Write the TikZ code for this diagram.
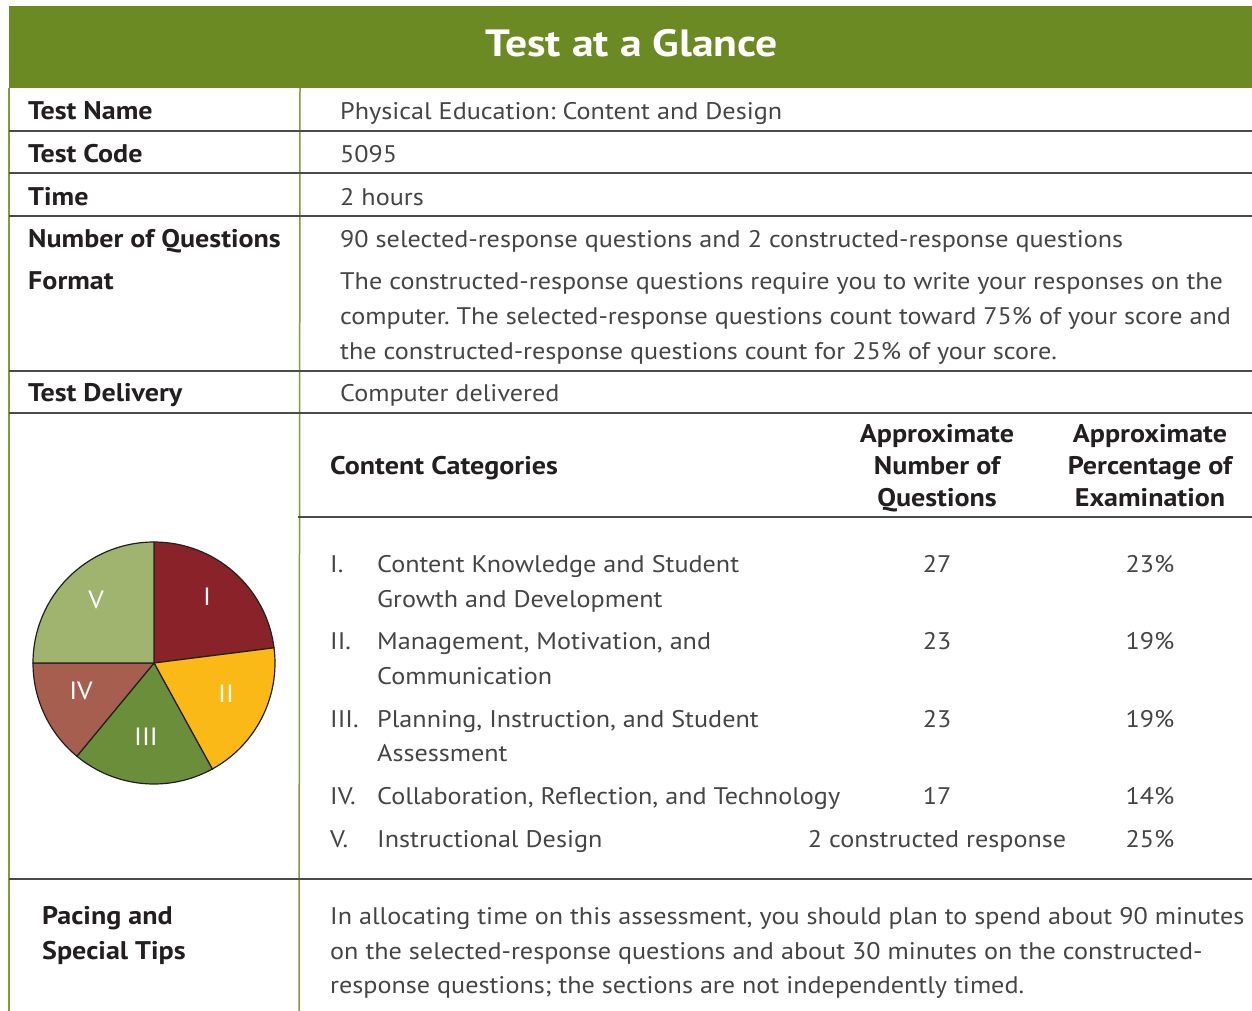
\documentclass[tikz,border=0pt]{standalone}
\usepackage{fontspec}
\setmainfont[FakeStretch=1.09]{PT Sans}
\newfontfamily\lblf[FakeStretch=1.10]{PT Sans}
\newfontfamily\ttlf[FakeStretch=1.15]{PT Sans}
\frenchspacing
\definecolor{hdrgreen}{HTML}{6B8A24}
\definecolor{rulegreen}{HTML}{7F9C3E}
\definecolor{rulegray}{HTML}{4A4A4A}
\definecolor{bodyc}{HTML}{454545}
\definecolor{labelc}{HTML}{231F20}
\definecolor{pieI}{HTML}{8A2329}
\definecolor{pieII}{HTML}{FBB917}
\definecolor{pieIII}{HTML}{6B8E3A}
\definecolor{pieIV}{HTML}{A65F4F}
\definecolor{pieV}{HTML}{A1B46F}
\begin{document}
\begin{tikzpicture}[x=1pt,y=-1pt,
  lbl/.style={anchor=base west, inner sep=0pt, font=\lblf\fontsize{25.5}{35}\selectfont\bfseries, text=labelc},
  val/.style={anchor=base west, inner sep=0pt, font=\fontsize{24}{35}\selectfont, text=bodyc},
  valc/.style={anchor=base, inner sep=0pt, font=\fontsize{24}{35}\selectfont, text=bodyc},
  lblc/.style={anchor=base, inner sep=0pt, font=\lblf\fontsize{25.5}{35}\selectfont\bfseries, text=labelc},
  hrule/.style={draw=rulegray, line width=1.5pt},
  vrule/.style={draw=rulegreen, line width=1.5pt},
  slice/.style={draw=labelc, line width=1.2pt},
  pielbl/.style={inner sep=0pt, font=\fontsize{25}{27}\selectfont, text=white}]
\useasboundingbox (0,0) rectangle (1252,1011);
\fill[white] (0,0) rectangle (1252,1011);
% header
\fill[hdrgreen] (9,6) rectangle (1252,88);
\node[anchor=base, inner sep=0pt, font=\ttlf\fontsize{38}{40}\selectfont\bfseries, text=white] (title) at (632,57) {Test at a Glance};
% vertical rules
\coordinate (vl0) at (9,88);   \coordinate (vl1) at (9,1011);
\coordinate (vd0) at (300,88); \coordinate (vd1) at (299,1011);
\draw[vrule] (vl0) -- (vl1);
\draw[vrule] (vd0) -- (vd1);
% horizontal rules
\foreach \yy in {131,173,216,371,413,879}{
  \draw[hrule] (9,\yy) -- (1252,\yy);
}
\draw[hrule] (298,517) -- (1252,517);
% rows
\node[lbl] (l1) at (28,119.5) {Test Name};
\node[val] (v1) at (340,119.5) {Physical Education: Content and Design};
\node[lbl] (l2) at (28,162.5) {Test Code};
\node[val] (v2) at (340,162.5) {5095};
\node[lbl] (l3) at (28,205.5) {Time};
\node[val] (v3) at (340,205.5) {2 hours};
\node[lbl] (l4) at (28,247.5) {Number of Questions};
\node[val] (v4) at (340,247.5) {90 selected-response questions and 2 constructed-response questions};
\node[lbl] (l5) at (28,289.5) {Format};
\node[val] (v5a) at (340,289.5) {The constructed-response questions require you to write your responses on the};
\node[val] (v5b) at (340,324.5) {computer. The selected-response questions count toward 75\% of your score and};
\node[val] (v5c) at (340,359.5) {the constructed-response questions count for 25\% of your score.};
\node[lbl] (l6) at (28,401.5) {Test Delivery};
\node[val] (v6) at (340,401.5) {Computer delivered};
% content header
\node[lbl] (ch) at (330,474) {Content Categories};
\node[lblc] (n1) at (937,442) {Approximate};
\node[lblc] (n2) at (937,474) {Number of};
\node[lblc] (n3) at (937,506) {Questions};
\node[lblc] (p1) at (1150,442) {Approximate};
\node[lblc] (p2) at (1150,474) {Percentage of};
\node[lblc] (p3) at (1150,506) {Examination};
% items
\node[val] (i1r) at (330,572.5) {I.};
\node[val] (i1a) at (377,572.5) {Content Knowledge and Student};
\node[val] (i1b) at (377,607.5) {Growth and Development};
\node[valc] (i1n) at (937,572.5) {27};
\node[valc] (i1p) at (1150,572.5) {23\%};
\node[val] (i2r) at (330,649.5) {II.};
\node[val] (i2a) at (377,649.5) {Management, Motivation, and};
\node[val] (i2b) at (377,684.5) {Communication};
\node[valc] (i2n) at (937,649.5) {23};
\node[valc] (i2p) at (1150,649.5) {19\%};
\node[val] (i3r) at (330,727.5) {III.};
\node[val] (i3a) at (377,727.5) {Planning, Instruction, and Student};
\node[val] (i3b) at (377,761.5) {Assessment};
\node[valc] (i3n) at (937,727.5) {23};
\node[valc] (i3p) at (1150,727.5) {19\%};
\node[val] (i4r) at (330,804.5) {IV.};
\node[val] (i4a) at (377,804.5) {Collaboration, Reflection, and Technology};
\node[valc] (i4n) at (937,804.5) {17};
\node[valc] (i4p) at (1150,804.5) {14\%};
\node[val] (i5r) at (330,847.5) {V.};
\node[val] (i5a) at (377,847.5) {Instructional Design};
\node[valc] (i5n) at (937,847.5) {2 constructed response};
\node[valc] (i5p) at (1150,847.5) {25\%};
% pacing
\node[lbl] (pc1) at (42,924.5) {Pacing and};
\node[lbl] (pc2) at (42,959.5) {Special Tips};
\node[val] (pt1) at (330,924.5) {In allocating time on this assessment, you should plan to spend about 90 minutes};
\node[val] (pt2) at (330,959.5) {on the selected-response questions and about 30 minutes on the constructed-};
\node[val] (pt3) at (330,993.5) {response questions; the sections are not independently timed.};
% pie
\begin{scope}[shift={(154,663)}, x=1pt, y=1pt]
  \filldraw[slice, fill=pieI] (0,0) -- (90:121) arc[start angle=90, end angle=7.2, radius=121] -- cycle;
  \filldraw[slice, fill=pieII] (0,0) -- (7.2:121) arc[start angle=7.2, end angle=-61.2, radius=121] -- cycle;
  \filldraw[slice, fill=pieIII] (0,0) -- (-61.2:121) arc[start angle=-61.2, end angle=-129.6, radius=121] -- cycle;
  \filldraw[slice, fill=pieIV] (0,0) -- (-129.6:121) arc[start angle=-129.6, end angle=-180, radius=121] -- cycle;
  \filldraw[slice, fill=pieV] (0,0) -- (180:121) arc[start angle=180, end angle=90, radius=121] -- cycle;
\end{scope}
\node[pielbl] (sI) at (207,597) {I};
\node[pielbl] (sII) at (226,694) {II};
\node[pielbl] (sIII) at (146,737) {III};
\node[pielbl] (sIV) at (81,691) {IV};
\node[pielbl] (sV) at (96,600) {V};
\end{tikzpicture}
\end{document}
